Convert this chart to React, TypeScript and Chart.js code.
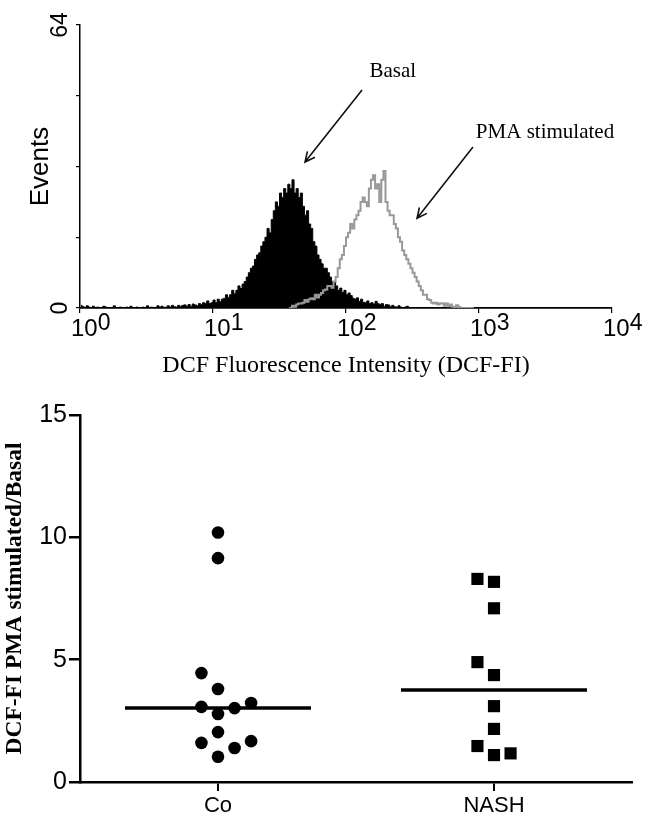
import React, { useEffect, useRef } from "react";
import { Chart, registerables } from "chart.js";

Chart.register(...registerables);

// ---------- Top panel: flow cytometry histogram ----------
const decadeTicks = [1, 10, 100, 1000, 10000];
const decadeExponents = ["0", "1", "2", "3", "4"];
const eventTicks = [0, 16, 32, 48, 64];
const eventTickLabels = ["0", "", "", "", "64"];
const channelsPerDecade = 64;

const basalFirstChannel = 0;
const basalCounts = [
  0.6, 0.3, 0, 0.5, 0.2, 0, 0.4, 0, 0.2, 0,
  0, 0.4, 0.2, 0, 0, 0, 0.5, 0, 0, 0.2,
  0, 0, 0.2, 0, 0.4, 0, 0, 0.2, 0, 0,
  0.2, 0, 0.5, 0, 0.2, 0, 0, 0.5, 0.2, 0.4,
  0, 0.2, 0.5, 0.2, 0.6, 0.3, 0.2, 0.6, 0.3, 0.6,
  0.7, 0.4, 0.8, 0.4, 0.9, 0.7, 0.5, 1, 0.8, 1.2,
  1, 1.6, 1, 1.2, 1.8, 1.2, 2, 1.4, 2, 2.2,
  3, 2.4, 3, 4, 3.2, 4, 5, 4.4, 5.4, 6,
  7, 8, 9, 9.5, 11, 12, 12.5, 14, 15, 16,
  18, 17, 20, 22, 24, 23, 26, 25, 27, 26,
  28, 27, 29, 26, 27, 25, 26, 23, 21, 22,
  19, 18, 15, 14, 12, 11, 10, 9, 9, 8,
  7, 6, 6, 5, 4, 4.5, 3.5, 4, 3, 3.4,
  2.8, 2.2, 2, 2.3, 1.5, 2, 1.3, 1.2, 1.6, 1,
  1.2, 0.9, 1.5, 1, 0.8, 1, 0.4, 0.8, 0.7, 0.3,
  0.6, 0.3, 0.2, 0.5, 0.2, 0, 0.2, 0.4, 0, 0,
  0, 0, 0, 0,
];

const pmaFirstChannel = 100;
const pmaCounts = [
  0, 0, 0.5, 0.3, 0.8, 1, 1, 1.2, 1.8, 1.4,
  2, 2.2, 2, 3, 2.4, 3, 3.4, 4, 4.2, 5,
  5, 4.6, 6, 7, 9, 11, 12, 14, 16, 17,
  19, 18, 20, 21, 22, 24, 25, 24, 23, 27,
  29, 30, 27, 28, 24, 29, 31, 24, 22, 21,
  21, 19, 18, 16, 15, 13, 12, 11, 10, 9,
  8, 7, 6, 5, 4, 3, 3, 2, 1.8, 1.2,
  1, 1.2, 0.8, 1, 1.1, 0.5, 1, 0.4, 0.8, 0.3,
  0.2, 0.6, 0.2, 0, 0, 0, 0, 0, 0, 0,
];

const annotationLabels = ["Basal", "PMA stimulated"];
const annotationTextAt = [
  [225, 53.6],
  [3135, 39.6],
];
const arrowTails = [
  [132, 49.3],
  [901, 36.4],
];
const arrowTips = [
  [49.2, 33.0],
  [342, 20.3],
];

// ---------- Bottom panel: dot plot ----------
const groups = ["Co", "NASH"];
const coValues = [10.2, 9.15, 4.45, 3.8, 3.07, 3.02, 3.23, 2.78, 2.04, 1.6, 1.67, 1.39, 1.03];
const coColumns = [0, 0, -1, 0, -1, 1, 2, 0, 0, -1, 2, 1, 0];
const nashValues = [8.3, 8.18, 7.1, 4.9, 4.37, 3.1, 2.17, 1.47, 1.1, 1.17];
const nashColumns = [-1, 0, 0, -1, 0, 0, 0, -1, 0, 1];
const groupMedians = [3.02, 3.76];
const ratioTicks = [0, 5, 10, 15];

const SANS = '"Liberation Sans", Arial, Helvetica, sans-serif';
const SERIF = '"Liberation Serif", "Times New Roman", serif';

function toPoints(first: number, counts: number[]) {
  return counts.map((c, i) => ({
    x: Math.pow(10, (first + i + 0.5) / channelsPerDecade),
    y: c,
  }));
}

const topLabelsPlugin = {
  id: "topLabels",
  afterDraw(chart: any) {
    const { ctx } = chart;
    const x = chart.scales.x;
    const y = chart.scales.y;
    ctx.save();
    ctx.fillStyle = "#000";
    ctx.textAlign = "left";
    ctx.textBaseline = "alphabetic";
    decadeTicks.forEach((v, i) => {
      const px = x.getPixelForValue(v);
      ctx.font = `24px ${SANS}`;
      const base = "10";
      ctx.fillText(base, px - 9, x.top + 28);
      const w = ctx.measureText(base).width;
      ctx.font = `23px ${SANS}`;
      ctx.fillText(decadeExponents[i], px - 9 + w, x.top + 22);
    });
    ctx.font = `23px ${SANS}`;
    ctx.textAlign = "center";
    ctx.textBaseline = "middle";
    eventTicks.forEach((v, i) => {
      const lbl = eventTickLabels[i];
      if (!lbl) return;
      const py = y.getPixelForValue(v);
      ctx.save();
      ctx.translate(y.right - 19, py);
      ctx.rotate(-Math.PI / 2);
      ctx.fillText(lbl, 0, 0);
      ctx.restore();
    });
    ctx.font = `21px ${SERIF}`;
    ctx.textAlign = "center";
    ctx.textBaseline = "middle";
    annotationLabels.forEach((lbl, i) => {
      const tx = x.getPixelForValue(annotationTextAt[i][0]);
      const ty = y.getPixelForValue(annotationTextAt[i][1]);
      ctx.fillText(lbl, tx, ty);
      const x0 = x.getPixelForValue(arrowTails[i][0]);
      const y0 = y.getPixelForValue(arrowTails[i][1]);
      const x1 = x.getPixelForValue(arrowTips[i][0]);
      const y1 = y.getPixelForValue(arrowTips[i][1]);
      ctx.strokeStyle = "#111";
      ctx.lineWidth = 1.6;
      ctx.beginPath();
      ctx.moveTo(x0, y0);
      ctx.lineTo(x1, y1);
      const ang = Math.atan2(y1 - y0, x1 - x0);
      const hl = 11;
      const spread = 0.45;
      ctx.moveTo(x1 - hl * Math.cos(ang - spread), y1 - hl * Math.sin(ang - spread));
      ctx.lineTo(x1, y1);
      ctx.lineTo(x1 - hl * Math.cos(ang + spread), y1 - hl * Math.sin(ang + spread));
      ctx.stroke();
    });
    ctx.restore();
  },
};

export default function App() {
  const topRef = useRef<HTMLCanvasElement>(null);
  const bottomRef = useRef<HTMLCanvasElement>(null);

  useEffect(() => {
    document.body.style.margin = "0";
    const top = new Chart(topRef.current as HTMLCanvasElement, {
      type: "line",
      data: {
        datasets: [
          {
            label: "PMA stimulated",
            data: toPoints(pmaFirstChannel, pmaCounts),
            borderColor: "#999999",
            borderWidth: 2,
            stepped: "middle",
            fill: false,
            pointRadius: 0,
          },
          {
            label: "Basal",
            data: toPoints(basalFirstChannel, basalCounts),
            borderColor: "#000",
            backgroundColor: "#000",
            borderWidth: 1,
            stepped: "middle",
            fill: "origin",
            pointRadius: 0,
          },
        ],
      } as any,
      options: {
        animation: false,
        responsive: false,
        maintainAspectRatio: false,
        layout: { padding: { left: 0, right: 35, top: 25, bottom: 0 } },
        plugins: { legend: { display: false }, tooltip: { enabled: false } },
        scales: {
          x: {
            type: "logarithmic",
            min: 1,
            max: 10000,
            z: 1,
            afterBuildTicks: (s: any) => {
              s.ticks = decadeTicks.map((v) => ({ value: v }));
            },
            afterFit: (s: any) => {
              s.height = 72;
            },
            ticks: { display: false },
            grid: { display: true, drawOnChartArea: false, drawTicks: true, tickLength: 5, color: "#000", lineWidth: 1.2 },
            border: { display: true, color: "#000", width: 1.8 },
            title: {
              display: true,
              text: "DCF Fluorescence Intensity (DCF-FI)",
              font: { family: SERIF, size: 24 },
              color: "#000",
              padding: 0,
            },
          },
          y: {
            type: "linear",
            min: 0,
            max: 64,
            z: 1,
            afterBuildTicks: (s: any) => {
              s.ticks = eventTicks.map((v) => ({ value: v }));
            },
            afterFit: (s: any) => {
              s.width = 80;
            },
            ticks: { display: false },
            grid: { display: true, drawOnChartArea: false, drawTicks: true, tickLength: 4, color: "#000", lineWidth: 1.2 },
            border: { display: true, color: "#000", width: 1.5 },
            title: {
              display: true,
              text: "Events",
              font: { family: SANS, size: 26 },
              color: "#000",
              padding: { top: 25, bottom: 0 },
            },
          },
        },
      } as any,
      plugins: [topLabelsPlugin],
    });

    const colStep = 0.06;
    const halfLine = 0.337;
    const bottom = new Chart(bottomRef.current as HTMLCanvasElement, {
      type: "scatter",
      data: {
        datasets: [
          {
            label: "Co",
            data: coValues.map((v, i) => ({ x: 1 + coColumns[i] * colStep, y: v })),
            pointStyle: "circle",
            pointRadius: 6.3,
            backgroundColor: "#000",
            borderColor: "#000",
            borderWidth: 0,
          },
          {
            label: "NASH",
            data: nashValues.map((v, i) => ({ x: 2 + nashColumns[i] * colStep, y: v })),
            pointStyle: "rect",
            pointRadius: 8.6,
            backgroundColor: "#000",
            borderColor: "#000",
            borderWidth: 0,
          },
          ...groups.map((g, i) => ({
            label: g + " median",
            type: "line",
            data: [
              { x: i + 1 - halfLine, y: groupMedians[i] },
              { x: i + 1 + halfLine, y: groupMedians[i] },
            ],
            borderColor: "#000",
            borderWidth: 3.5,
            pointRadius: 0,
            fill: false,
          })),
        ],
      } as any,
      options: {
        animation: false,
        responsive: false,
        maintainAspectRatio: false,
        layout: { padding: { left: 0, right: 15, top: 35, bottom: 0 } },
        plugins: { legend: { display: false }, tooltip: { enabled: false } },
        scales: {
          x: {
            type: "linear",
            min: 0.5,
            max: 2.5,
            afterBuildTicks: (s: any) => {
              s.ticks = groups.map((_, i) => ({ value: i + 1 }));
            },
            afterFit: (s: any) => {
              s.height = 38;
            },
            ticks: {
              callback: (_v: any, idx: number) => groups[idx],
              font: { family: SANS, size: 22 },
              color: "#000",
              padding: 2,
              maxRotation: 0,
              autoSkip: false,
            },
            grid: { display: true, drawOnChartArea: false, drawTicks: true, tickLength: 9, color: "#000", lineWidth: 2 },
            border: { display: true, color: "#000", width: 2.5 },
          },
          y: {
            type: "linear",
            min: 0,
            max: 15,
            afterBuildTicks: (s: any) => {
              s.ticks = ratioTicks.map((v) => ({ value: v }));
            },
            afterFit: (s: any) => {
              s.width = 80;
            },
            ticks: {
              font: { family: SANS, size: 25 },
              color: "#000",
              padding: 2,
            },
            grid: { display: true, drawOnChartArea: false, drawTicks: true, tickLength: 11, color: "#000", lineWidth: 2.5 },
            border: { display: true, color: "#000", width: 2.5 },
            title: {
              display: true,
              text: "DCF-FI PMA stimulated/Basal",
              font: { family: SERIF, size: 23.5, weight: "bold" },
              color: "#000",
              padding: { top: 1, bottom: 0 },
            },
          },
        },
      } as any,
    });

    return () => {
      top.destroy();
      bottom.destroy();
    };
  }, []);

  return (
    <div style={{ position: "absolute", left: 0, top: 0, width: 647, height: 820, background: "#fff" }}>
      <canvas ref={topRef} width={647} height={380} style={{ position: "absolute", left: 0, top: 0, width: 647, height: 380 }} />
      <canvas ref={bottomRef} width={647} height={440} style={{ position: "absolute", left: 0, top: 380, width: 647, height: 440 }} />
    </div>
  );
}
